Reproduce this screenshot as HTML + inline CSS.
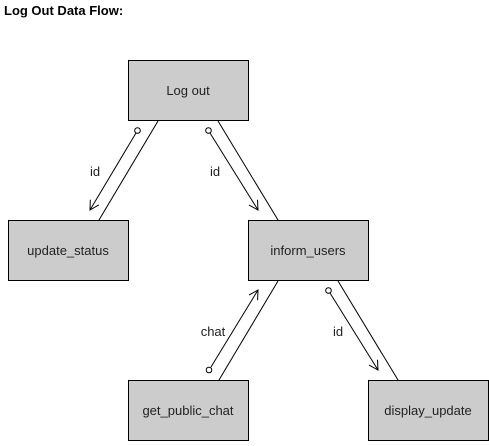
<!DOCTYPE html>
<html><head><style>body{margin:0;background:#fff;width:489px;height:441px;overflow:hidden}</style></head><body>
<svg width="489" height="441" xmlns="http://www.w3.org/2000/svg" font-family="Liberation Sans, Arial, sans-serif">
<defs><marker id="a" markerWidth="12" markerHeight="12" refX="10" refY="6" orient="auto" markerUnits="userSpaceOnUse"><path d="M1,1 L10,6 L1,11" fill="none" stroke="#000" stroke-width="1"/></marker></defs>
<text x="4" y="15" font-size="13" font-weight="bold">Log Out Data Flow:</text>
<g fill="#cccccc" stroke="#000" stroke-width="1">
<rect x="128.5" y="60.5" width="120" height="60"/>
<rect x="8.5" y="220.5" width="120" height="60"/>
<rect x="248.5" y="220.5" width="120" height="60"/>
<rect x="128.5" y="380.5" width="120" height="60"/>
<rect x="368.5" y="380.5" width="120" height="60"/>
</g>
<g font-size="13" text-anchor="middle" fill="#222">
<text x="188" y="95">Log out</text>
<text x="68" y="255">update_status</text>
<text x="308" y="255">inform_users</text>
<text x="188" y="415">get_public_chat</text>
<text x="428" y="415">display_update</text>
<text x="95" y="176">id</text>
<text x="215" y="176">id</text>
<text x="213" y="336">chat</text>
<text x="338" y="336">id</text>
</g>
<g stroke="#000" stroke-width="1" fill="none">
<line x1="158" y1="121" x2="99" y2="220"/>
<line x1="218" y1="121" x2="278" y2="220"/>
<line x1="278" y1="281" x2="219" y2="380"/>
<line x1="338" y1="281" x2="398" y2="380"/>
<line x1="136" y1="133" x2="90" y2="210" marker-end="url(#a)"/>
<line x1="210" y1="133" x2="258" y2="210" marker-end="url(#a)"/>
<line x1="211" y1="367" x2="258" y2="290" marker-end="url(#a)"/>
<line x1="330" y1="293" x2="378" y2="370" marker-end="url(#a)"/>
</g>
<g stroke="#000" fill="#fff">
<circle cx="137.5" cy="130.5" r="2.8"/>
<circle cx="208.5" cy="130.5" r="2.8"/>
<circle cx="209" cy="370" r="2.8"/>
<circle cx="328.5" cy="290.5" r="2.8"/>
</g>
</svg>
</body></html>
